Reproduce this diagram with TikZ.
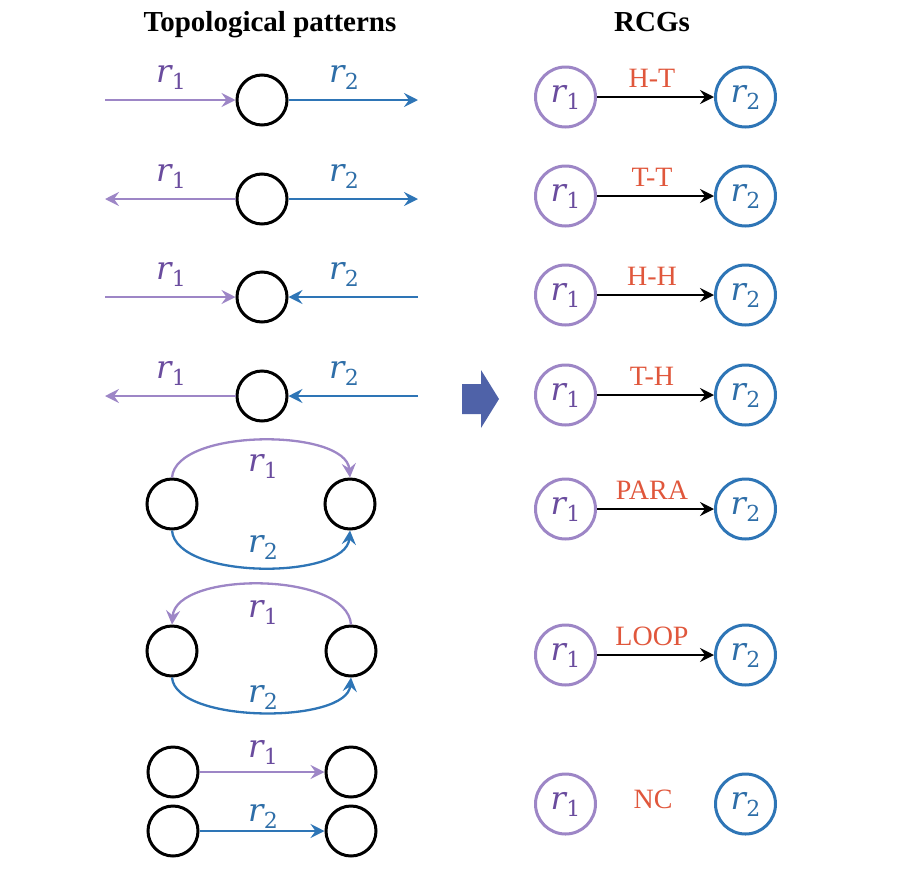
\documentclass[tikz,border=0pt]{standalone}
\usepackage{fontspec}
\setmainfont{Liberation Serif}
\newfontfamily\rvfont{DejaVu Serif}
\usetikzlibrary{arrows.meta}
\definecolor{purp}{HTML}{9D86C6}
\definecolor{purpt}{HTML}{6A4C9E}
\definecolor{blu}{HTML}{2E75B6}
\definecolor{blut}{HTML}{2E6EA8}
\definecolor{redt}{HTML}{E0573C}
\definecolor{bigarrow}{HTML}{4F62A8}
\newcommand{\rv}[1]{{\rvfont\fontsize{32}{34}\selectfont\itshape r}\kern0.5pt\raisebox{-7pt}{\rvfont\fontsize{22}{24}\selectfont #1}}
\newcommand{\reltfont}{\fontsize{28}{34}\selectfont}
\newcommand{\ttlfont}{\fontsize{29}{35}\selectfont\bfseries}
\begin{document}
\begin{tikzpicture}[x=1pt,y=-1pt,
  tip/.style={-{Stealth[length=14pt,width=14pt,inset=5pt]}},
  pc/.style={circle,draw=black,line width=3pt,minimum size=50pt,inner sep=0pt},
  rca/.style={circle,draw=purp,line width=3pt,minimum size=60pt,inner sep=0pt,text=purpt},
  rcb/.style={circle,draw=blu,line width=3pt,minimum size=60pt,inner sep=0pt,text=blut},
  pl/.style={tip,draw=purp,line width=2.3pt},
  bl/.style={tip,draw=blu,line width=2.3pt},
  kl/.style={tip,draw=black,line width=2.6pt},
  laba/.style={text=purpt,anchor=base,inner sep=0pt},
  labb/.style={text=blut,anchor=base,inner sep=0pt},
  rel/.style={text=redt,font=\reltfont,anchor=base,inner sep=0pt},
  ttl/.style={font=\ttlfont,anchor=base,inner sep=0pt}
]
\useasboundingbox (0,0) rectangle (908,868);

% titles
\node[ttl] (t1) at (270,31) {Topological patterns};
\node[ttl] (t2) at (652,31) {RCGs};

% ---------- left column ----------
% row 1
\node[pc] (c1) at (262,100) {};
\coordinate (a1) at (105,100);
\coordinate (b1) at (418,100);
\draw[pl] (a1) -- (c1);
\draw[bl] (c1) -- (b1);
\node[laba] (l1a) at (171,82) {\rv{1}};
\node[labb] (l1b) at (344,82) {\rv{2}};
% row 2
\node[pc] (c2) at (262,199) {};
\coordinate (a2) at (105,199);
\coordinate (b2) at (418,199);
\draw[pl] (c2) -- (a2);
\draw[bl] (c2) -- (b2);
\node[laba] (l2a) at (171,181) {\rv{1}};
\node[labb] (l2b) at (344,181) {\rv{2}};
% row 3
\node[pc] (c3) at (262,297) {};
\coordinate (a3) at (105,297);
\coordinate (b3) at (418,297);
\draw[pl] (a3) -- (c3);
\draw[bl] (b3) -- (c3);
\node[laba] (l3a) at (171,279) {\rv{1}};
\node[labb] (l3b) at (344,279) {\rv{2}};
% row 4
\node[pc] (c4) at (262,396) {};
\coordinate (a4) at (105,396);
\coordinate (b4) at (418,396);
\draw[pl] (c4) -- (a4);
\draw[bl] (b4) -- (c4);
\node[laba] (l4a) at (171,378) {\rv{1}};
\node[labb] (l4b) at (344,378) {\rv{2}};
% row 5 (parallel)
\node[pc] (L5) at (172,504) {};
\node[pc] (R5) at (350,504) {};
\draw[pl] (L5.north) .. controls (176,428) and (346,428) .. (R5.north);
\draw[bl] (L5.south) .. controls (176,580) and (346,580) .. (R5.south);
\node[laba] (l5a) at (263,471) {\rv{1}};
\node[labb] (l5b) at (263,552) {\rv{2}};
% row 6 (loop)
\node[pc] (L6) at (172,651) {};
\node[pc] (R6) at (351,651) {};
\draw[pl] (R6.north) .. controls (347,571) and (176,571) .. (L6.north);
\draw[bl] (L6.south) .. controls (176,724) and (347,724) .. (R6.south);
\node[laba] (l6a) at (263,617) {\rv{1}};
\node[labb] (l6b) at (263,702) {\rv{2}};
% row 7 (no connection)
\node[pc] (L7a) at (173,772) {};
\node[pc] (R7a) at (351,772) {};
\node[pc] (L7b) at (173,831) {};
\node[pc] (R7b) at (351,831) {};
\draw[pl] (L7a) -- (R7a);
\draw[bl] (L7b) -- (R7b);
\node[laba] (l7a) at (263,757) {\rv{1}};
\node[labb] (l7b) at (263,821) {\rv{2}};

% ---------- big arrow ----------
\fill[bigarrow] (462,384) -- (481,384) -- (481,370) -- (499,399) -- (481,428) -- (481,414) -- (462,414) -- cycle;

% ---------- right column ----------
\foreach \n/\y/\t in {1/97/H-T,2/196/T-T,3/295/H-H,4/395/T-H,5/509/PARA,6/655/LOOP}{
  \node[rca] (p\n) at (565.5,\y) {\rv{1}};
  \node[rcb] (q\n) at (745.5,\y) {\rv{2}};
  \draw[kl] (p\n) -- (q\n);
  \node[rel] (e\n) at (652,\y-10) {\t};
}
\node[rca] (p7) at (565.5,804) {\rv{1}};
\node[rcb] (q7) at (745.5,804) {\rv{2}};
\node[rel] (e7) at (653,808) {NC};
\end{tikzpicture}
\end{document}
